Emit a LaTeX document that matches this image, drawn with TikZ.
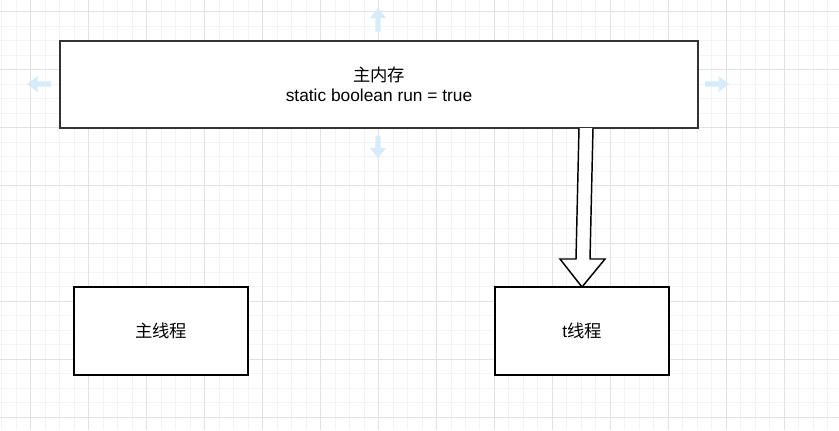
\documentclass[tikz,border=0pt]{standalone}
\usepackage{fontspec}
\setmainfont{Liberation Sans}
\newfontfamily\cjk{Noto Sans CJK SC}
\usetikzlibrary{calc}
\definecolor{gridminor}{HTML}{F3F3F3}
\definecolor{gridmajor}{HTML}{E2E2E2}
\definecolor{hintblue}{HTML}{D6ECFA}
\definecolor{boxline}{HTML}{333333}
\tikzset{
  minorgrid/.style={draw=gridminor, line width=0.75pt},
  majorgrid/.style={draw=gridmajor, line width=0.75pt},
  box/.style={draw=black, fill=white, line width=1.1pt, inner sep=0pt, outer sep=0pt,
    font=\fontsize{13}{15}\selectfont, align=center},
  blockarrow/.style={draw=black, fill=white, line width=1.1pt, line join=miter},
  hint/.style={fill=hintblue, draw=none}
}
\begin{document}
\begin{tikzpicture}[x=0.75pt, y=-0.75pt]
\useasboundingbox (0,0) rectangle (839,430);
\fill[white] (0,0) rectangle (839,430);
% grid
\foreach \k in {-2,...,56} { \draw[minorgrid] ({30.7+14.493*\k},0) -- ({30.7+14.493*\k},430); }
\foreach \k in {-1,...,29} { \draw[minorgrid] (0,{11.7+14.485*\k}) -- (839,{11.7+14.485*\k}); }
\foreach \k in {0,...,13} { \draw[majorgrid] ({30.7+57.97*\k},0) -- ({30.7+57.97*\k},430); }
\foreach \k in {0,...,7} { \draw[majorgrid] (0,{11.7+57.94*\k}) -- (839,{11.7+57.94*\k}); }
% hint arrows
\fill[hint] (378,8) -- (386,18) -- (380.7,18) -- (380.7,31.5) -- (375.3,31.5) -- (375.3,18) -- (370,18) -- cycle;
\fill[hint] (378,158) -- (386,148) -- (380.7,148) -- (380.7,135.5) -- (375.3,135.5) -- (375.3,148) -- (370,148) -- cycle;
\fill[hint] (27,84) -- (37.5,76) -- (37.5,81.3) -- (51,81.3) -- (51,86.7) -- (37.5,86.7) -- (37.5,92) -- cycle;
\fill[hint] (729,84) -- (718.5,76) -- (718.5,81.3) -- (705,81.3) -- (705,86.7) -- (718.5,86.7) -- (718.5,92) -- cycle;
% nodes
\node[box, draw=boxline, minimum width=478.5pt, minimum height=65.25pt] (mem) at (379,84.5)
  {{\cjk 主内存}\\static boolean run = true};
\node[box, minimum width=130.5pt, minimum height=66pt] (main) at (161,331) {\cjk 主线程};
\node[box, minimum width=130.7pt, minimum height=66pt] (t) at (582,331) {t{\cjk 线程}};
% block arrow from mem to t
\coordinate (s) at (mem.south -| 586,0);
\draw[blockarrow] ($(s)+(-7,0)$) -- ($(t.north)+(-6,-28)$) -- ($(t.north)+(-22,-28)$)
  -- (t.north) -- ($(t.north)+(23,-28)$) -- ($(t.north)+(8,-28)$) -- ($(s)+(7,0)$);
\end{tikzpicture}
\end{document}
